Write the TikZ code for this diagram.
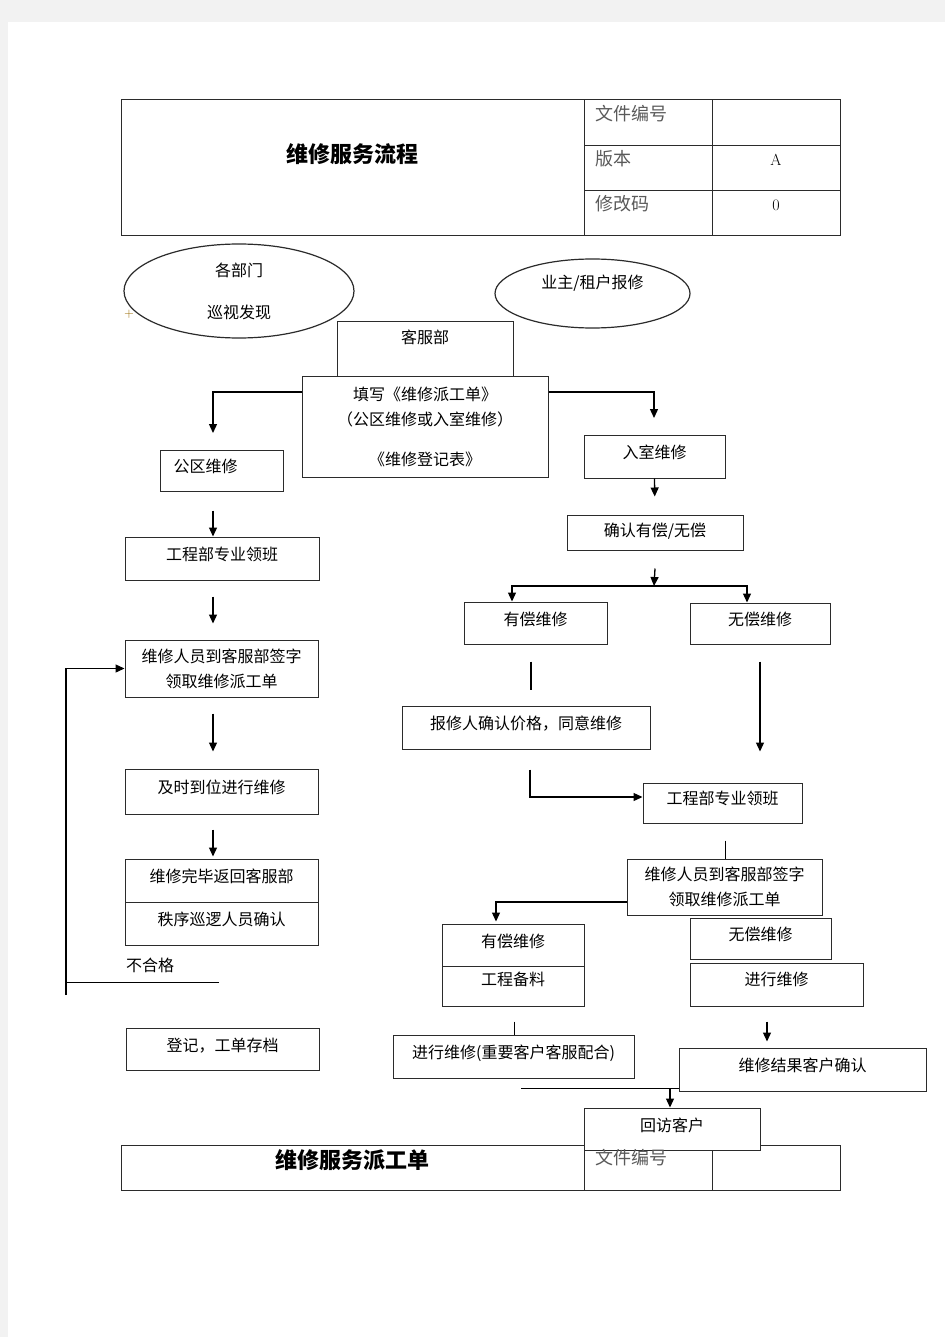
\documentclass[tikz,border=0pt]{standalone}
\usepackage{fontspec}
\newfontfamily\cjk{Noto Sans CJK SC}
\usetikzlibrary{shapes.geometric,arrows.meta}
\definecolor{pagegray}{HTML}{F2F2F2}
\definecolor{linegray}{HTML}{2B2B2B}
\definecolor{headgray}{HTML}{5A5A5A}
\definecolor{markgold}{HTML}{9A6A00}

\tikzset{
  box/.style={draw=linegray, line width=1pt, fill=white, rectangle, inner sep=0pt,
    text height=12pt, text depth=8pt, font=\cjk\fontsize{16}{25}\selectfont},
  box2/.style={draw=linegray, line width=1pt, fill=white, rectangle, inner sep=0pt,
    align=center, font=\cjk\fontsize{16}{25}\selectfont},
  oval/.style={ellipse, draw=linegray, line width=1.2pt, inner sep=0pt,
    align=center, font=\cjk\fontsize{16}{25}\selectfont},
  arr/.style={-{Triangle[length=9pt,width=8pt]}, line width=1.3pt},
  link/.style={line width=1pt},
  head/.style={font=\cjk\fontsize{18}{22}\selectfont, text=headgray, anchor=west},
  title/.style={font=\cjk\bfseries\fontsize{22}{26}\selectfont}
}

\begin{document}
\begin{tikzpicture}[x=1pt, y=-1pt]

    \useasboundingbox (0,0) rectangle (945,1337);
    \fill[pagegray] (0,0) rectangle (945,1337);
    \fill[white] (8,22) rectangle (945,1337);

    %% Header table
    \draw[linegray, line width=1pt] (121,100) rectangle (840,236);
    \draw[linegray, line width=1pt] (584,100) -- (584,236) (712,100) -- (712,236);
    \draw[linegray, line width=1pt] (584,146) -- (840,146) (584,191) -- (840,191);
    \node[title] (flowtitle) at (352,154) {维修服务流程};
    \node[head] (docno) at (592,114) {文件编号};
    \node[head] (version) at (592,159) {版本};
    \node[head] (revcode) at (592,204) {修改码};
    \node[font=\fontsize{16}{20}\selectfont] (verval) at (776,160) {A};
    \node[font=\fontsize{16}{20}\selectfont] (revval) at (776,205) {0};

    %% Sources
    \node[oval, minimum width=230pt, minimum height=94pt] (dept) at (239,291) {各部门\\[17pt]巡视发现};
    \node[text=markgold, font=\fontsize{13}{14}\selectfont] (plus) at (129,314) {+};
    \node[oval, minimum width=195pt, minimum height=69pt, text height=12pt, text depth=21pt] (owner) at (592.5,293.5) {业主/租户报修};

    % Customer service
    \node[box, minimum width=176pt, minimum height=55pt, text depth=23pt] (kefu) at (425,348.5) {客服部};
    \node[box2, minimum width=246pt, minimum height=101pt] (tianxie) at (425,426.5)
        {填写《维修派工单》\\（公区维修或入室维修）\\[15pt]《维修登记表》};

    %% Left column: public area
    \node[box, minimum width=123pt, minimum height=41pt] (gongqu) at (221.5,470.5) {公区维修\hspace*{32pt}};
    \node[box, minimum width=194pt, minimum height=43pt] (gcL) at (222,558.5) {工程部专业领班};
    \node[box2, minimum width=193pt, minimum height=57pt] (wxL) at (221.5,668.5) {维修人员到客服部签字\\领取维修派工单};
    \node[box, minimum width=193pt, minimum height=45pt] (jsL) at (221.5,791.5) {及时到位进行维修};
    \node[box, minimum width=193pt, minimum height=43pt] (wbL) at (221.5,880.5) {维修完毕返回客服部};
    \node[box, minimum width=193pt, minimum height=43pt] (zxL) at (221.5,923.5) {秩序巡逻人员确认};
    \node[font=\cjk\fontsize{16}{20}\selectfont] (buhege) at (150,965) {不合格};
    \node[box, minimum width=193pt, minimum height=42pt] (djL) at (222.5,1049) {登记，工单存档};

    \coordinate (gqend) at (213,433);
    \draw[arr] ([yshift=34.5pt]tianxie.west) -| (gqend);
    \draw[arr] ([xshift=-8.5pt, yshift=-19pt]gongqu.south) -- ([xshift=-9pt]gcL.north);
    \draw[arr] ([xshift=-9pt, yshift=-16pt]gcL.south) -- ([xshift=-8.5pt, yshift=16pt]wxL.north);
    \draw[arr] ([xshift=-8.5pt, yshift=-16pt]wxL.south) -- ([xshift=-8.5pt, yshift=17pt]jsL.north);
    \draw[arr] ([xshift=-8.5pt, yshift=-15pt]jsL.south) -- ([xshift=-8.5pt, yshift=2pt]wbL.north);

    % Failed check goes back
    \coordinate (failend) at (219,982);
    \coordinate (backfoot) at (66,995);
    \draw[link] (failend) -- (failend -| backfoot);
    \draw[arr] (backfoot) |- (wxL.west);

    %% Right column: indoor
    \node[box, minimum width=141pt, minimum height=43pt] (rushi) at (654.5,456.5) {入室维修};
    \node[box, minimum width=176pt, minimum height=35pt, text depth=4pt] (queren) at (655,532.5) {确认有偿/无偿};
    \node[box, minimum width=143pt, minimum height=42pt] (youchang) at (535.5,623) {有偿维修};
    \node[box, minimum width=140pt, minimum height=41pt] (wuchang) at (760,623.5) {无偿维修};
    \node[box, minimum width=248pt, minimum height=43pt] (baoxiu) at (526,727.5) {报修人确认价格，同意维修};
    \node[box, minimum width=159pt, minimum height=40pt, text depth=10pt] (gcR) at (722.5,803) {工程部专业领班};
    \node[box2, minimum width=195pt, minimum height=56pt] (wxR) at (724.5,887) {维修人员到客服部签字\\领取维修派工单};
    \node[box, minimum width=142pt, minimum height=42pt] (ycA) at (513,945) {有偿维修};
    \node[box, minimum width=142pt, minimum height=40pt, text depth=14pt] (ycB) at (513,986) {工程备料};
    \node[box, minimum width=141pt, minimum height=41pt] (wcR) at (760.5,938.5) {无偿维修};
    \node[box, minimum width=173pt, minimum height=43pt, text depth=10pt] (jxR) at (776.5,984.5) {进行维修};
    \node[box, minimum width=241pt, minimum height=43pt] (jxY) at (513.5,1056.5) {进行维修(重要客户客服配合)};
    \node[box, minimum width=247pt, minimum height=43pt] (jgR) at (802.5,1069.5) {维修结果客户确认};

    \coordinate (rsend) at (654,418);
    \coordinate (fork) at (654,586);
    \draw[arr] ([yshift=34.5pt]tianxie.east) -| (rsend);
    \draw[arr, shorten >=18pt] (rushi.south) -- (queren.north);
    \draw[arr] ([yshift=-18pt]queren.south) -- (fork);
    \draw[arr] (fork) -| ([xshift=-23.5pt]youchang.north);
    \draw[arr] (fork) -| ([xshift=-13pt]wuchang.north);
    \draw[line width=2pt] ([xshift=-4.5pt, yshift=-17pt]youchang.south) -- ([xshift=5pt, yshift=16pt]baoxiu.north);
    \draw[arr] ([yshift=-17pt]wuchang.south) -- ([xshift=37.5pt, yshift=31pt]gcR.north);
    \draw[arr] ([xshift=4pt, yshift=-20pt]baoxiu.south) |- ([yshift=6pt]gcR.west);
    \draw[link] ([xshift=2.5pt, yshift=-17pt]gcR.south) -- ([xshift=0.5pt]wxR.north);
    \draw[arr] ([yshift=-15pt]wxR.west) -| ([xshift=-17pt, yshift=2pt]ycA.north);
    \draw[link] ([xshift=1pt, yshift=-15pt]ycB.south) -- ([xshift=0.5pt]jxY.north);
    \draw[arr] ([xshift=-9.5pt, yshift=-15pt]jxR.south) -- ([xshift=-35.5pt, yshift=6pt]jgR.north);

    %% Bottom table
    \draw[linegray, line width=1pt] (121,1145) rectangle (840,1190);
    \draw[linegray, line width=1pt] (584,1145) -- (584,1190) (712,1145) -- (712,1190);
    \node[title] (ordertitle) at (352,1160) {维修服务派工单};

    % Return visit
    \node[box, minimum width=176pt, minimum height=42pt] (huifang) at (672,1129) {回访客户};
    \coordinate (mergeL) at (521,1088);
    \coordinate (mergeD) at (670,1088);
    \draw[link] (mergeL) -- ([yshift=-18.5pt]jgR.west);
    \draw[arr] (mergeD) -- ([xshift=-2pt]huifang.north);
    \node[head] (docno2) at (592,1158) {文件编号};

\end{tikzpicture}
\end{document}
